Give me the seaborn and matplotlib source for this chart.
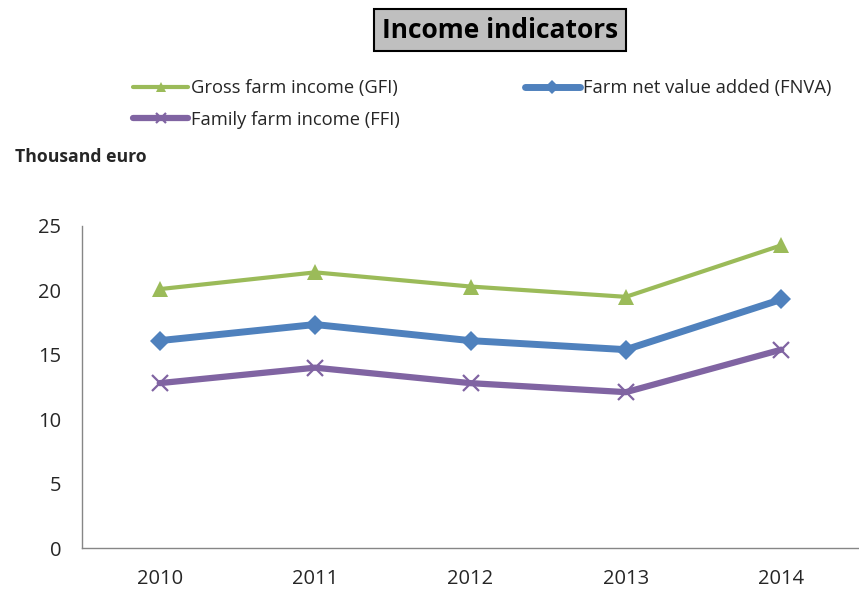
import matplotlib
matplotlib.use("Agg")
import matplotlib.pyplot as plt
import numpy as np
import pandas as pd
import seaborn as sns

# Income indicators per year (thousand euro)
years = ["2010", "2011", "2012", "2013", "2014"]
gfi = [20.1, 21.4, 20.3, 19.5, 23.5]
fnva = [16.1, 17.35, 16.1, 15.4, 19.3]
ffi = [12.8, 14.0, 12.8, 12.1, 15.4]
series_names = ["Gross farm income (GFI)", "Farm net value added (FNVA)", "Family farm income (FFI)"]
y_ticks = [0, 5, 10, 15, 20, 25]

sns.set_theme(style="white")
plt.rcParams["font.family"] = ["Open Sans", "DejaVu Sans"]

fig = plt.figure(figsize=(8.59, 5.92), dpi=100)
ax = fig.add_axes([82 / 859, 44 / 592, 777 / 859, 322 / 592])

pos = np.arange(len(years))
df = pd.DataFrame({"pos": pos, "GFI": gfi, "FNVA": fnva, "FFI": ffi})

styles = {
    "GFI": dict(color="#9BBB59", marker="^", linewidth=3.0, markersize=11, mew=0),
    "FNVA": dict(color="#4F81BD", marker="D", linewidth=5.0, markersize=10.5, mew=0),
    "FFI": dict(color="#8064A2", marker="x", linewidth=4.5, markersize=11, mew=1.6),
}
handles = {}
for key, name in zip(["GFI", "FNVA", "FFI"], series_names):
    st = styles[key]
    sns.lineplot(data=df, x="pos", y=key, ax=ax, color=st["color"], marker=st["marker"],
                 linewidth=st["linewidth"], markersize=st["markersize"],
                 markeredgewidth=st["mew"], markeredgecolor=st["color"],
                 label=name, legend=False)
    handles[key] = ax.lines[-1]

ax.set_xlim(-0.5, len(years) - 0.5)
ax.set_ylim(0, 25)
ax.set_yticks(y_ticks)
ax.set_yticklabels([str(t) for t in y_ticks], fontsize=14.5)
ax.set_xticks(np.arange(-0.5, len(years), 1.0))
ax.set_xticklabels([])
ax.set_xticks(pos, minor=True)
ax.set_xticklabels(years, minor=True, fontsize=14.5)
ax.tick_params(axis="x", which="minor", length=0, pad=15)
ax.tick_params(axis="x", which="major", length=5, width=1, color="#868686", direction="out")
ax.tick_params(axis="y", length=5, width=1, color="#868686", direction="out", pad=10)
ax.set_xlabel("")
ax.set_ylabel("")
ax.grid(False)
for s in ["top", "right"]:
    ax.spines[s].set_visible(False)
for s in ["left", "bottom"]:
    ax.spines[s].set_color("#868686")
    ax.spines[s].set_linewidth(1)

# Title in a grey framed box
fig.text(500 / 859, 1 - 30 / 592, "Income indicators", ha="center", va="center",
         fontsize=19, fontweight="bold", color="black",
         bbox=dict(boxstyle="square,pad=0.3", facecolor="#BFBFBF", edgecolor="black", linewidth=1.5))

# Unit label
fig.text(15 / 859, 1 - 157 / 592, "Thousand euro", ha="left", va="center",
         fontsize=12.7, fontweight="bold")

leg = fig.legend([handles["GFI"], handles["FFI"], handles["FNVA"]],
                 [series_names[0], series_names[2], series_names[1]],
                 ncol=2, loc="upper left", bbox_to_anchor=(133 / 859, 1 - 79 / 592),
                 borderaxespad=0, borderpad=0,
                 frameon=False, fontsize=13.2, handlelength=3.0, handletextpad=0.17,
                 columnspacing=6.8, labelspacing=0.75, markerscale=0.7)

fig.savefig("out.png", dpi=100)
